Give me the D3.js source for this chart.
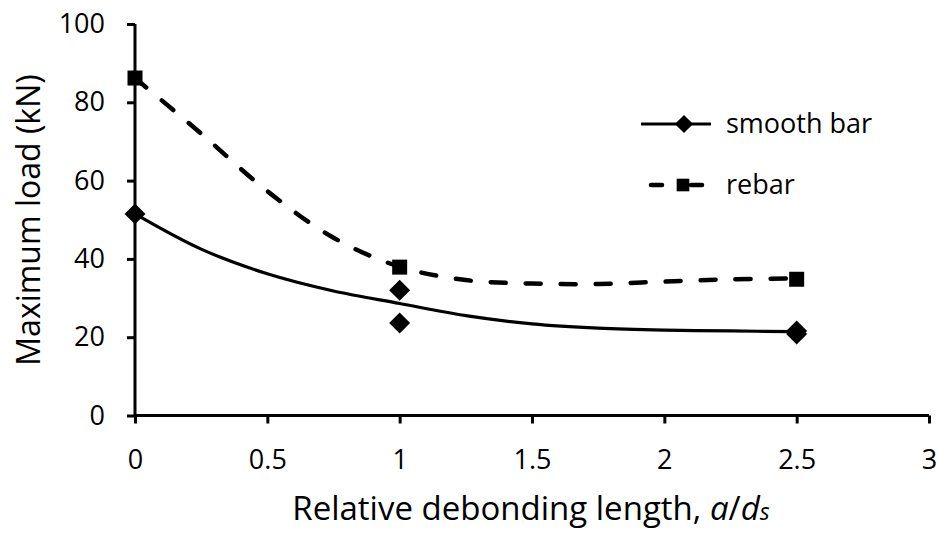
<!DOCTYPE html>
<html>
<head>
<meta charset="utf-8">
<script src="https://cdn.jsdelivr.net/npm/d3@7"></script>
<style>
  html, body { margin: 0; padding: 0; background: #fff; }
  svg { display: block; }
  text { font-family: "Open Sans", sans-serif; fill: #000; }
</style>
</head>
<body>
<svg id="chart" width="938" height="536"></svg>
<script>
// ---- data ----
const xTicks = [0, 0.5, 1, 1.5, 2, 2.5, 3];
const yTicks = [0, 20, 40, 60, 80, 100];

const smoothX = [0, 1, 1, 2.5, 2.5];
const smoothY = [51.5, 32, 23.6, 21.6, 20.8];
const rebarX = [0, 1, 2.5];
const rebarY = [86.2, 37.9, 34.8];

// trend curves
const trendX = [0, 0.25, 0.5, 0.75, 1, 1.25, 1.5, 1.75, 2, 2.25, 2.5];
const smoothTrend = [51.5, 42.5, 36.2, 31.8, 28.6, 25.5, 23.4, 22.3, 21.8, 21.6, 21.4];
const rebarTrend = [86.2, 72.0, 57.3, 45.4, 38.0, 34.6, 33.7, 33.6, 34.2, 34.8, 35.0];

const seriesNames = ["smooth bar", "rebar"];

// ---- layout ----
const svg = d3.select("#chart");
const x = d3.scaleLinear().domain([0, 3]).range([135, 929]);
const y = d3.scaleLinear().domain([0, 100]).range([415.5, 24]);

// axes
const xAxis = d3.axisBottom(x).tickValues(xTicks).tickSize(8).tickPadding(26)
  .tickFormat(d => String(d));
const yAxis = d3.axisLeft(y).tickValues(yTicks).tickSize(8).tickPadding(22)
  .tickFormat(d => String(d));

const gx = svg.append("g").attr("transform", `translate(0,${y(0)})`).call(xAxis);
const gy = svg.append("g").attr("transform", `translate(${x(0)},0)`).call(yAxis);
[gx, gy].forEach(g => {
  g.select(".domain").attr("stroke", "#000").attr("stroke-width", 3);
  g.selectAll(".tick line").attr("stroke", "#000").attr("stroke-width", 3);
  g.selectAll(".tick text").style("font-size", "27px").style("font-family", "'Open Sans', sans-serif").attr("fill", "#000");
});
gx.select(".domain").attr("d", `M${x(0)},0H${x(3)}`);
gy.select(".domain").attr("d", `M0,${y(0)}V${y(100)}`);

// trend lines
const line = d3.line().x((d, i) => x(trendX[i])).y(d => y(d)).curve(d3.curveCatmullRom.alpha(0.5));
svg.append("path").datum(smoothTrend).attr("d", line)
  .attr("fill", "none").attr("stroke", "#000").attr("stroke-width", 3.2);
svg.append("path").datum(rebarTrend).attr("d", line)
  .attr("fill", "none").attr("stroke", "#000").attr("stroke-width", 4.5)
  .attr("stroke-dasharray", "15,20").attr("stroke-linecap", "round");

// markers
svg.append("g").selectAll("path").data(smoothX).join("path")
  .attr("d", d3.symbol().type(d3.symbolSquare).size(220))
  .attr("transform", (d, i) => `translate(${x(d)},${y(smoothY[i])}) rotate(45)`)
  .attr("fill", "#000");

svg.append("g").selectAll("path").data(rebarX).join("path")
  .attr("transform", (d, i) => `translate(${x(d)},${y(rebarY[i])})`)
  .attr("d", d3.symbol().type(d3.symbolSquare).size(225))
  .attr("fill", "#000");

// legend
const lg = svg.append("g");
lg.append("line").attr("x1", 641).attr("x2", 711).attr("y1", 124).attr("y2", 124)
  .attr("stroke", "#000").attr("stroke-width", 3);
lg.append("path").attr("transform", "translate(684,124) rotate(45)")
  .attr("d", d3.symbol().type(d3.symbolSquare).size(165)).attr("fill", "#000");
lg.append("text").attr("x", 726).attr("y", 133).style("font-size", "27px").text(seriesNames[0]);

lg.append("line").attr("x1", 651).attr("x2", 662).attr("y1", 185).attr("y2", 185)
  .attr("stroke", "#000").attr("stroke-width", 4.5).attr("stroke-linecap", "round");
lg.append("line").attr("x1", 691).attr("x2", 702).attr("y1", 185).attr("y2", 185)
  .attr("stroke", "#000").attr("stroke-width", 4.5).attr("stroke-linecap", "round");
lg.append("path").attr("transform", "translate(683,185)")
  .attr("d", d3.symbol().type(d3.symbolSquare).size(160)).attr("fill", "#000");
lg.append("text").attr("x", 726).attr("y", 194).style("font-size", "27px").text(seriesNames[1]);

// axis titles
svg.append("text").attr("transform", "translate(40,220) rotate(-90)")
  .attr("text-anchor", "middle").style("font-size", "32px").text("Maximum load (kN)");

const xt = svg.append("text").attr("x", 531).attr("y", 520)
  .attr("text-anchor", "middle").style("font-size", "33px");
xt.append("tspan").text("Relative debonding length, ");
xt.append("tspan").style("font-style", "italic").text("a");
xt.append("tspan").text("/");
xt.append("tspan").style("font-style", "italic").text("d");
xt.append("tspan").style("font-style", "italic").style("font-size", "23px").text("s");
</script>
</body>
</html>
